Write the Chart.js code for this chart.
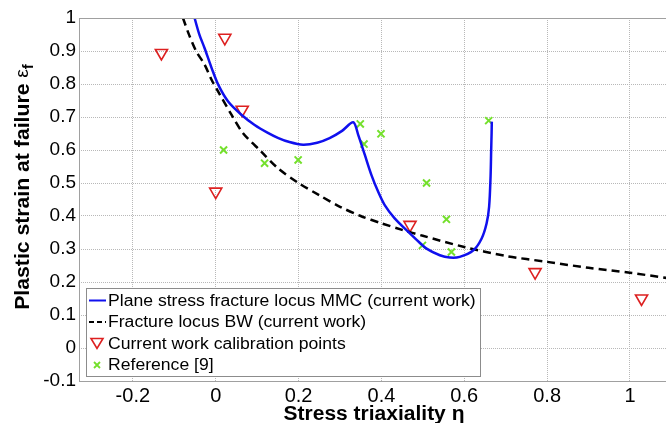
<!DOCTYPE html>
<html>
<head>
    <title>Fracture locus</title>
    <script src="https://cdn.jsdelivr.net/npm/chart.js"></script>
    <style>
        html, body { margin: 0; padding: 0; background: #fff; }
        #wrap { width: 666px; height: 423px; }
    </style>
</head>
<body>
    <div id="wrap"><canvas id="myChart" width="666" height="423"></canvas></div>

    <script>
        // series
        var mmcEta = [-0.051, -0.040, -0.027, -0.010, 0.006, 0.030, 0.062, 0.094, 0.126, 0.150, 0.178, 0.211, 0.245, 0.275, 0.305, 0.332,
                      0.344, 0.360, 0.376, 0.392, 0.408, 0.432, 0.465, 0.490, 0.509, 0.541, 0.565, 0.589, 0.622, 0.642, 0.654, 0.660, 0.6635, 0.665, 0.666, 0.6665];
        var mmcStrain = [1.0, 0.952, 0.909, 0.849, 0.798, 0.747, 0.707, 0.676, 0.652, 0.637, 0.624, 0.616, 0.622, 0.636, 0.658, 0.684,
                         0.646, 0.585, 0.524, 0.474, 0.433, 0.393, 0.352, 0.322, 0.301, 0.281, 0.274, 0.276, 0.296, 0.332, 0.378, 0.428, 0.519, 0.600, 0.651, 0.686];

        var bwEta = [-0.079, -0.064, -0.047, -0.027, -0.010, 0.006, 0.038, 0.066, 0.110, 0.150, 0.200, 0.250, 0.300, 0.350, 0.400, 0.450, 0.500, 0.600, 0.700, 0.800, 0.900, 1.000, 1.090];
        var bwStrain = [1.0, 0.948, 0.899, 0.859, 0.813, 0.777, 0.707, 0.651, 0.595, 0.545, 0.500, 0.463, 0.428, 0.400, 0.378, 0.358, 0.340, 0.306, 0.279, 0.261, 0.243, 0.228, 0.212];

        var calEta = [-0.131, 0.022, 0.064, 0.000, 0.469, 0.771, 1.028];
        var calStrain = [0.894, 0.940, 0.722, 0.474, 0.373, 0.230, 0.150];

        var refEta = [0.019, 0.118, 0.199, 0.349, 0.358, 0.399, 0.509, 0.499, 0.557, 0.569, 0.659];
        var refStrain = [0.600, 0.560, 0.570, 0.679, 0.618, 0.649, 0.500, 0.311, 0.390, 0.291, 0.689];

        var xTicks = [-0.2, 0, 0.2, 0.4, 0.6, 0.8, 1];
        var yTicks = [-0.1, 0, 0.1, 0.2, 0.3, 0.4, 0.5, 0.6, 0.7, 0.8, 0.9, 1];

        var seriesNames = [
            'Plane stress fracture locus MMC (current work)',
            'Fracture locus BW (current work)',
            'Current work calibration points',
            'Reference [9]'
        ];

        function pts(xs, ys) {
            return xs.map(function (x, i) { return { x: x, y: ys[i] }; });
        }

        var BLUE = '#1010ee';
        var RED = '#dd2020';
        var GREEN = '#74e02c';
        var FONT = '"Liberation Sans", Arial, sans-serif';

        // titles with subscript + frame + legend inside the axes
        var decorPlugin = {
            id: 'decor',
            afterDraw: function (chart) {
                var ctx = chart.ctx;
                var a = chart.chartArea;
                ctx.save();

                // axes frame
                ctx.strokeStyle = '#a0a0a0';
                ctx.lineWidth = 1;
                ctx.setLineDash([]);
                ctx.strokeRect(a.left + 0.5, a.top + 0.5, a.right - a.left, a.bottom - a.top);

                // x title
                ctx.fillStyle = '#000';
                ctx.font = 'bold 20px ' + FONT;
                ctx.textAlign = 'center';
                ctx.textBaseline = 'alphabetic';
                ctx.save();
                ctx.translate(374, 420);
                ctx.scale(1.05, 1);
                ctx.fillText('Stress triaxiality \u03b7', 0, 0);
                ctx.restore();

                // y title, rotated, with subscript f
                ctx.save();
                ctx.translate(29, 187);
                ctx.rotate(-Math.PI / 2);
                ctx.scale(1.06, 1);
                var main = 'Plastic strain at failure ';
                var eps = '\u03b5';
                ctx.font = 'bold 20px ' + FONT;
                var w1 = ctx.measureText(main).width;
                ctx.font = '18px ' + FONT;
                var w2 = ctx.measureText(eps).width;
                ctx.font = 'bold 14px ' + FONT;
                var w3 = ctx.measureText('f').width;
                var start = -(w1 + w2 + w3) / 2;
                ctx.textAlign = 'left';
                ctx.font = 'bold 20px ' + FONT;
                ctx.fillText(main, start, 0);
                ctx.font = '18px ' + FONT;
                ctx.fillText(eps, start + w1, -1);
                ctx.font = 'bold 14px ' + FONT;
                ctx.fillText('f', start + w1 + w2, 4);
                ctx.restore();

                // legend
                var lx = 86, ly = 288, lw = 394, lh = 88;
                ctx.fillStyle = '#fff';
                ctx.fillRect(lx, ly, lw, lh);
                ctx.strokeStyle = '#8c8c8c';
                ctx.lineWidth = 1;
                ctx.strokeRect(lx + 0.5, ly + 0.5, lw, lh);

                var rowY = [300.5, 322, 343.5, 365];
                var sx = 97;
                chart.data.datasets.forEach(function (ds, i) {
                    var y = rowY[i];
                    ctx.save();
                    if (i === 0 || i === 1) {
                        ctx.strokeStyle = ds.borderColor;
                        ctx.lineWidth = 2;
                        ctx.setLineDash(i === 1 ? [5, 3] : []);
                        ctx.beginPath();
                        ctx.moveTo(89, y);
                        ctx.lineTo(106, y);
                        ctx.stroke();
                    } else if (i === 2) {
                        ctx.strokeStyle = ds.borderColor;
                        ctx.lineWidth = 1.6;
                        ctx.beginPath();
                        ctx.moveTo(sx - 6, y - 5);
                        ctx.lineTo(sx + 6, y - 5);
                        ctx.lineTo(sx, y + 5);
                        ctx.closePath();
                        ctx.stroke();
                    } else {
                        ctx.strokeStyle = ds.borderColor;
                        ctx.lineWidth = 1.8;
                        ctx.beginPath();
                        ctx.moveTo(sx - 3, y - 3); ctx.lineTo(sx + 3, y + 3);
                        ctx.moveTo(sx + 3, y - 3); ctx.lineTo(sx - 3, y + 3);
                        ctx.stroke();
                    }
                    ctx.restore();

                    ctx.fillStyle = '#000';
                    ctx.font = '16px ' + FONT;
                    ctx.textAlign = 'left';
                    ctx.textBaseline = 'middle';
                    ctx.save();
                    ctx.translate(108, y + 1);
                    ctx.scale(1.1, 1);
                    ctx.fillText(ds.label, 0, 0);
                    ctx.restore();
                });

                ctx.restore();
            }
        };

        var ctx = document.getElementById('myChart').getContext('2d');

        var myChart = new Chart(ctx, {
            type: 'scatter',
            data: {
                datasets: [{
                    label: seriesNames[0],
                    data: pts(mmcEta, mmcStrain),
                    showLine: true,
                    borderColor: BLUE,
                    borderWidth: 2.5,
                    pointRadius: 0,
                    tension: 0.3,
                    fill: false
                }, {
                    label: seriesNames[1],
                    data: pts(bwEta, bwStrain),
                    showLine: true,
                    borderColor: '#000',
                    borderWidth: 2.5,
                    borderDash: [8, 5],
                    pointRadius: 0,
                    tension: 0.3,
                    fill: false
                }, {
                    label: seriesNames[2],
                    data: pts(calEta, calStrain),
                    pointStyle: 'triangle',
                    rotation: 180,
                    pointRadius: 7,
                    borderColor: RED,
                    backgroundColor: 'rgba(255,255,255,0)',
                    borderWidth: 1.6
                }, {
                    label: seriesNames[3],
                    data: pts(refEta, refStrain),
                    pointStyle: 'crossRot',
                    pointRadius: 5,
                    borderColor: GREEN,
                    borderWidth: 2
                }]
            },
            options: {
                responsive: false,
                animation: false,
                layout: { autoPadding: false, padding: { top: 18, right: 0, left: 0, bottom: 0 } },
                plugins: {
                    legend: { display: false },
                    tooltip: { enabled: false }
                },
                scales: {
                    x: {
                        type: 'linear',
                        min: -0.33,
                        max: 1.087,
                        afterBuildTicks: function (s) {
                            s.ticks = xTicks.map(function (v) { return { value: v }; });
                        },
                        afterFit: function (s) {
                            s.height = 42;
                            s.paddingLeft = 0;
                            s.paddingRight = 0;
                        },
                        ticks: {
                            color: '#000',
                            padding: 3,
                            font: { family: FONT, size: 20 },
                            callback: function (v) { return String(Number(v.toFixed(1))); }
                        },
                        grid: { color: '#b8b8b8', drawTicks: false, lineWidth: 1 },
                        border: { display: false, dash: [1, 1] }
                    },
                    y: {
                        type: 'linear',
                        min: -0.1,
                        max: 1,
                        afterBuildTicks: function (s) {
                            s.ticks = yTicks.map(function (v) { return { value: v }; });
                        },
                        afterFit: function (s) {
                            s.width = 79;
                            s.paddingTop = 0;
                            s.paddingBottom = 0;
                        },
                        ticks: {
                            color: '#000',
                            padding: 3,
                            font: { family: FONT, size: 19 },
                            callback: function (v) { return String(Number(v.toFixed(1))); }
                        },
                        grid: { color: '#b8b8b8', drawTicks: false, lineWidth: 1 },
                        border: { display: false, dash: [1, 1] }
                    }
                }
            },
            plugins: [decorPlugin]
        });
    </script>
</body>
</html>
